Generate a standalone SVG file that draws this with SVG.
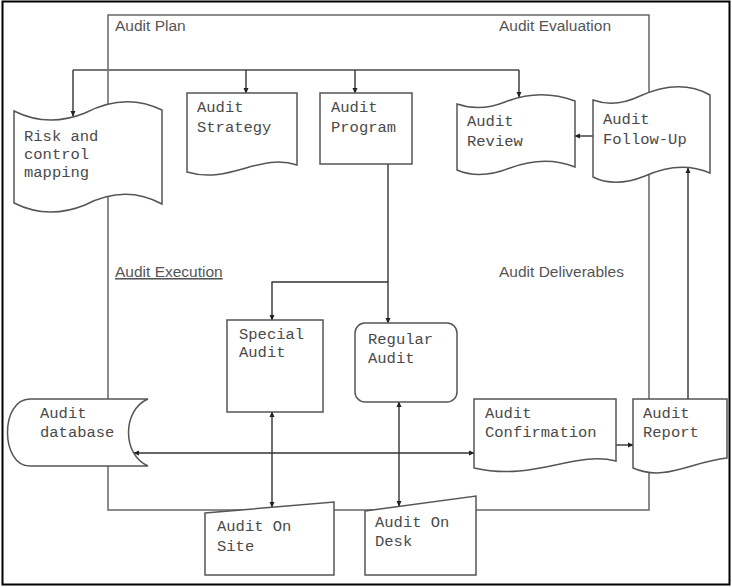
<svg xmlns="http://www.w3.org/2000/svg" width="732" height="587" viewBox="0 0 732 587">
<defs>
<marker id="ah" viewBox="0 0 8 8" refX="7" refY="4" markerWidth="6" markerHeight="6" markerUnits="userSpaceOnUse" orient="auto-start-reverse">
<path d="M0,0.5 L8,4 L0,7.5 Z" fill="#222"/>
</marker>
<style>
.frame{fill:none;stroke:#666;stroke-width:1.5}
.node{fill:#fff;stroke:#555;stroke-width:1.5}
.lbl{font-family:"Liberation Mono","Courier New",monospace;font-size:15.5px;fill:#4a4a4a}
.sec{font-family:"Liberation Sans",Arial,sans-serif;font-size:15.5px;fill:#555}
.con{fill:none;stroke:#333;stroke-width:1.4}
.bus{fill:none;stroke:#777;stroke-width:2.2}
</style>
</defs>
<rect x="0" y="0" width="732" height="587" fill="#fff"/>
<rect x="2.5" y="1.5" width="727" height="583" fill="none" stroke="#000" stroke-width="2"/>
<g id="frame">
<rect class="frame" x="108" y="15" width="541" height="495"/>
<text class="sec" x="115" y="31">Audit Plan</text>
<text class="sec" x="499" y="31">Audit Evaluation</text>
<text class="sec" x="115" y="277" text-decoration="underline">Audit Execution</text>
<text class="sec" x="499" y="277">Audit Deliverables</text>
</g>
<g id="connectors">
<path class="bus" d="M73,70 H519"/>
<path class="con" d="M73,70 V116" marker-end="url(#ah)"/>
<path class="con" d="M246,70 V93" marker-end="url(#ah)"/>
<path class="con" d="M355,70 V93" marker-end="url(#ah)"/>
<path class="con" d="M519,70 V97" marker-end="url(#ah)"/>
<path class="con" d="M388,164 V323" marker-end="url(#ah)"/>
<path class="con" d="M388,282 H272 V320" marker-end="url(#ah)"/>
<path class="con" d="M593,136 H575" marker-end="url(#ah)"/>
<path class="con" d="M688,399 V168" marker-end="url(#ah)"/>
<path class="con" d="M616,445 H633" marker-end="url(#ah)"/>
<path class="con" d="M134,453 H474" marker-start="url(#ah)" marker-end="url(#ah)"/>
<path class="con" d="M272,412 V507" marker-start="url(#ah)" marker-end="url(#ah)"/>
<path class="con" d="M399,402 V506" marker-start="url(#ah)" marker-end="url(#ah)"/>
</g>
<g id="risk">
<path class="node" d="M14,111 Q48,128 85,113 Q125,92 162,110 L162,204 Q125,184 85,205 Q48,220 14,203 Z"/>
<text class="lbl" x="24" y="141">Risk and</text>
<text class="lbl" x="24" y="159">control</text>
<text class="lbl" x="24" y="177">mapping</text>
</g>
<g id="strategy">
<path class="node" d="M187,93 H297 V165 C260,152 230,185 187,172 Z"/>
<text class="lbl" x="197" y="112">Audit</text>
<text class="lbl" x="197" y="132">Strategy</text>
</g>
<g id="program">
<rect class="node" x="320" y="93" width="92" height="71"/>
<text class="lbl" x="331" y="112">Audit</text>
<text class="lbl" x="331" y="132">Program</text>
</g>
<g id="review">
<path class="node" d="M457,104 Q480,112 505,102 Q540,88 575,101 L575,167 Q545,155 510,168 Q480,180 457,170 Z"/>
<text class="lbl" x="467" y="126">Audit</text>
<text class="lbl" x="467" y="146">Review</text>
</g>
<g id="followup">
<path class="node" d="M593,100 Q615,108 640,96 Q680,78 710,95 L710,173 Q680,160 645,176 Q615,188 593,177 Z"/>
<text class="lbl" x="603" y="124">Audit</text>
<text class="lbl" x="603" y="144">Follow-Up</text>
</g>
<g id="special">
<rect class="node" x="227" y="320" width="96" height="92"/>
<text class="lbl" x="239" y="339">Special</text>
<text class="lbl" x="239" y="357">Audit</text>
</g>
<g id="regular">
<rect class="node" x="355" y="323" width="102" height="79" rx="10" ry="10"/>
<text class="lbl" x="368" y="344">Regular</text>
<text class="lbl" x="368" y="363">Audit</text>
</g>
<g id="database">
<path class="node" d="M30,399 H148 C122,410 122,455 148,466 H30 C0,466 0,399 30,399 Z"/>
<text class="lbl" x="40" y="418">Audit</text>
<text class="lbl" x="40" y="437">database</text>
</g>
<g id="confirmation">
<path class="node" d="M474,399 H616 V461 C575,450 535,482 474,468 Z"/>
<text class="lbl" x="485" y="418">Audit</text>
<text class="lbl" x="485" y="437">Confirmation</text>
</g>
<g id="report">
<path class="node" d="M633,399 H727 V458 C690,462 665,482 633,468 Z"/>
<text class="lbl" x="643" y="418">Audit</text>
<text class="lbl" x="643" y="437">Report</text>
</g>
<g id="onsite">
<path class="node" d="M205,513 L334,502 L334,575 L205,575 Z"/>
<text class="lbl" x="217" y="531">Audit On</text>
<text class="lbl" x="217" y="551">Site</text>
</g>
<g id="ondesk">
<path class="node" d="M365,511 L476,496 L476,575 L365,575 Z"/>
<text class="lbl" x="375" y="527">Audit On</text>
<text class="lbl" x="375" y="546">Desk</text>
</g>
</svg>
